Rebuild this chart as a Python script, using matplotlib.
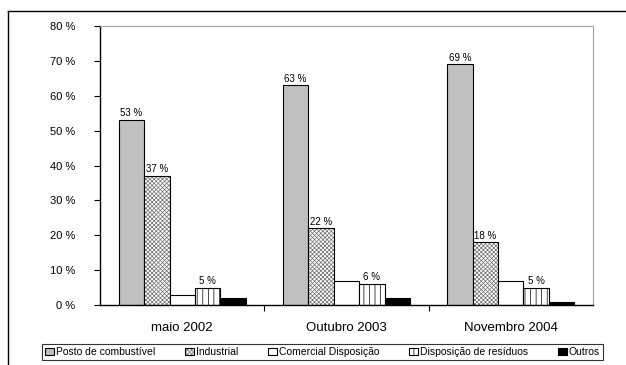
import matplotlib
matplotlib.use("Agg")
import matplotlib.pyplot as plt
import numpy as np
from matplotlib.lines import Line2D

plt.rcParams['font.family'] = ['Liberation Sans', 'DejaVu Sans']
plt.rcParams['hatch.linewidth'] = 0.5

# data
periods = ["maio 2002", "Outubro 2003", "Novembro 2004"]
series = ["Posto de combustível", "Industrial", "Comercial Disposição",
          "Disposição de resíduos", "Outros"]
posto = [53, 63, 69]
industrial = [37, 22, 18]
comercial = [3, 7, 7]
residuos = [5, 6, 5]
outros = [2, 2, 1]
values = [posto, industrial, comercial, residuos, outros]
show_label = [True, True, False, True, False]

fills = ["#c0c0c0", "white", "white", "white", "black"]
hatches = [None, "xxxxxxxx", None, "|||", None]
hatch_cols = ["black", "#707070", "black", "black", "black"]

fig = plt.figure(figsize=(6.26, 3.65), dpi=100)
ax = fig.add_axes([0.16, 0.164, 0.787, 0.765])

x = np.arange(len(periods))
w = 0.155
for i, vals in enumerate(values):
    pos = x + (i - 2) * w
    bars = ax.bar(pos, vals, w, color=fills[i], edgecolor="black",
                  linewidth=0.8, hatch=hatches[i], label=series[i])
    if hatches[i]:
        for b in bars:
            b._hatch_color = matplotlib.colors.to_rgba(hatch_cols[i])
    if show_label[i]:
        for p, v in zip(pos, vals):
            ax.text(p, v + 0.5, f"{v} %", ha="center", va="bottom", fontsize=7)

ax.set_xlim(-0.5, 2.5)
ax.set_ylim(0, 80)
ax.set_yticks(range(0, 81, 10))
ax.set_yticklabels([f"{t} %" for t in range(0, 81, 10)], fontsize=8)
ax.set_xticks([0.5, 1.5])
ax.set_xticklabels([])
ax.tick_params(axis="x", length=4, direction="out")
for i, p in enumerate(periods):
    ax.text(x[i], -6.5, p, ha="center", va="center", fontsize=9.5)
ax.tick_params(axis="y", length=4, pad=14)
ax.spines["top"].set_color("#a0a0a0")
ax.spines["right"].set_color("#a0a0a0")
ax.spines["left"].set_linewidth(1)
ax.spines["bottom"].set_linewidth(1)

handles, labels = ax.get_legend_handles_labels()
leg = fig.legend(handles, labels, loc="center",
                 bbox_to_anchor=(322.5 / 626, 1 - 352 / 365), ncol=5,
                 fontsize=7.5, frameon=True, fancybox=False, edgecolor="black",
                 handlelength=0.9, handleheight=0.7, handletextpad=0.2,
                 columnspacing=2.8, borderpad=0.25)
leg.get_frame().set_linewidth(0.8)

# outer chart border
fig.add_artist(Line2D([8 / 626, 8 / 626], [0, 1 - 11 / 365], color="black", lw=1))
fig.add_artist(Line2D([8 / 626, 1], [1 - 11 / 365, 1 - 11 / 365], color="black", lw=1))

fig.savefig("out.png", dpi=100)
